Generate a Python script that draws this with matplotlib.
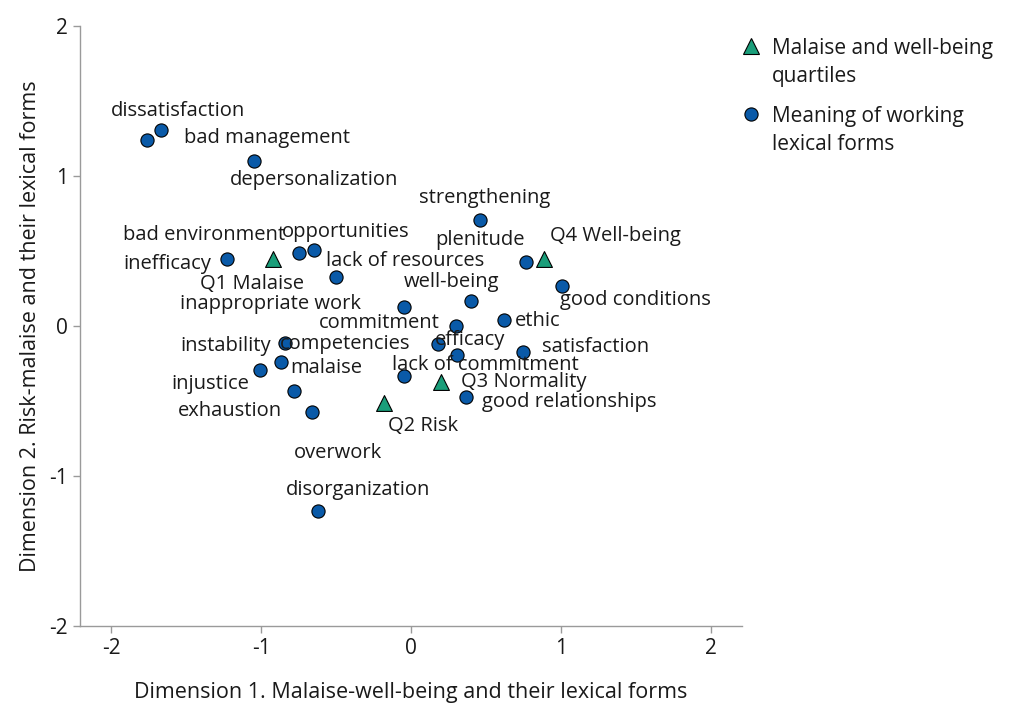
import matplotlib
matplotlib.use('Agg')
import matplotlib.pyplot as plt
from matplotlib.lines import Line2D

# Формы лексики (круги)
word_labels = ['dissatisfaction', 'bad management', 'depersonalization', 'inefficacy',
               'bad environment', 'opportunities', 'lack of resources', 'strengthening',
               'plenitude', 'good conditions', 'well-being', 'inappropriate work',
               'commitment', 'ethic', 'instability', 'competencies', 'efficacy',
               'satisfaction', 'lack of commitment', 'malaise', 'injustice',
               'exhaustion', 'overwork', 'good relationships', 'disorganization']
word_x = [-1.76, -1.67, -1.05, -1.23, -0.75, -0.65, -0.50, 0.46, 0.77, 1.01, 0.40,
          -0.05, 0.30, 0.62, -0.84, 0.18, 0.31, 0.75, -0.05, -0.87, -1.01, -0.66,
          -0.78, 0.37, -0.62]
word_y = [1.24, 1.31, 1.10, 0.45, 0.49, 0.51, 0.33, 0.71, 0.43, 0.27, 0.17, 0.13,
          0.00, 0.04, -0.11, -0.12, -0.19, -0.17, -0.33, -0.24, -0.29, -0.57, -0.43,
          -0.47, -1.23]

# Квартили (треугольники)
quart_labels = ['Q1 Malaise', 'Q2 Risk', 'Q3 Normality', 'Q4 Well-being']
quart_x = [-0.92, -0.18, 0.20, 0.89]
quart_y = [0.45, -0.51, -0.37, 0.45]

# Смещения подписей в пикселях (dx, dy)
word_offsets = [(31, 29), (106, -8), (61, -19), (-59, -5), (-94, 18), (32, 18), (69, 15),
                (5, 22), (-46, 21), (73, -14), (-19, 18), (-133, 3), (-77, 3), (34, -1),
                (-59, -4), (-93, 0), (13, 14), (72, 4), (82, 11), (46, -6), (-49, -15),
                (-82, 1), (44, -62), (103, -6), (40, 21)]
quart_offsets = [(-21, -25), (39, -23), (83, -1), (71, 22)]

BLUE = '#0a5aa8'
GREEN = '#1a9e7a'
GRAY = '#9a9a9a'
TXT = '#1a1a1a'
FS = 14.5

plt.rcParams['font.family'] = ['Open Sans', 'DejaVu Sans']
plt.rcParams['axes.unicode_minus'] = False

fig = plt.figure(figsize=(10.25, 7.04), dpi=100)
ax = fig.add_axes([80 / 1025, 78 / 704, 662 / 1025, 600 / 704])

ax.scatter(quart_x, quart_y, marker='^', s=130, c=GREEN, edgecolors='black',
           linewidths=0.8, zorder=3)
ax.scatter(word_x, word_y, marker='o', s=90, c=BLUE, edgecolors='black',
           linewidths=0.8, zorder=3)

for lab, x, y, (dx, dy) in zip(word_labels, word_x, word_y, word_offsets):
    ax.annotate(lab, (x, y), xytext=(dx, dy), textcoords='offset pixels',
                ha='center', va='center', fontsize=FS, color=TXT, zorder=4)
for lab, x, y, (dx, dy) in zip(quart_labels, quart_x, quart_y, quart_offsets):
    ax.annotate(lab, (x, y), xytext=(dx, dy), textcoords='offset pixels',
                ha='center', va='center', fontsize=FS, color=TXT, zorder=4)

ax.set_xlim(-2.207, 2.207)
ax.set_ylim(-2, 2)
ax.set_xticks([-2, -1, 0, 1, 2])
ax.set_yticks([-2, -1, 0, 1, 2])
ax.tick_params(labelsize=15, color=GRAY, length=5, width=1, labelcolor=TXT)
for side in ['top', 'right']:
    ax.spines[side].set_visible(False)
for side in ['left', 'bottom']:
    ax.spines[side].set_color(GRAY)
    ax.spines[side].set_linewidth(1)

ax.set_xlabel('Dimension 1. Malaise-well-being and their lexical forms', fontsize=15.5,
              labelpad=17, color=TXT)
ax.set_ylabel('Dimension 2. Risk-malaise and their lexical forms', fontsize=15.5,
              labelpad=6, color=TXT)

# Легенда вручную: маркер у первой строки
W, H = 1025, 704
legend_items = [('^', GREEN, 130, 'Malaise and well-being\nquartiles', 46),
                ('o', BLUE, 90, 'Meaning of working\nlexical forms', 114)]
for mk, col, s, text, ypix in legend_items:
    fig.add_artist(Line2D([751 / W], [1 - ypix / H], marker=mk, markersize=s ** 0.5,
                          markerfacecolor=col, markeredgecolor='black',
                          markeredgewidth=0.8, linestyle='none',
                          transform=fig.transFigure))
    fig.text(772 / W, 1 - (ypix - 8) / H, text, fontsize=15, color=TXT,
             ha='left', va='top', linespacing=1.45)

fig.savefig('out.png', dpi=100)
